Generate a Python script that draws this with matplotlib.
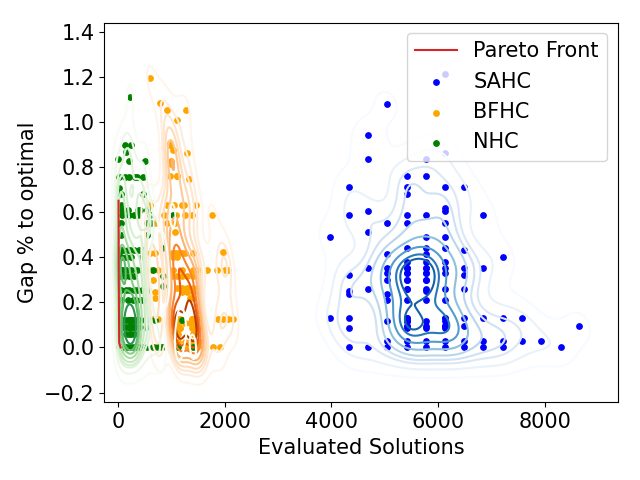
import matplotlib
matplotlib.use("Agg")
import matplotlib.pyplot as plt
import seaborn as sns

# rows of (gap, [evaluated solutions]),
# repeated x values are points lying on top of each other
sahc_rows = [
    (1.21, [6130]),
    (1.08, [5040]),
    (0.94, [4690]),
    (0.86, [6130]),
    (0.835, [4690, 5770]),
    (0.76, [5420, 5770]),
    (0.71, [4330, 5420, 6130, 6490]),
    (0.68, [5420]),
    (0.62, [6130]),
    (0.605, [4690, 6130]),
    (0.585, [4330, 5420, 5770, 6850]),
    (0.55, [5040, 5420, 6130]),
    (0.51, [4690]),
    (0.49, [3980, 5770, 6130]),
    (0.44, [5420, 5770, 6130]),
    (0.43, [6490]),
    (0.415, [5040, 5770]),
    (0.40, [7210]),
    (0.38, [5420, 5770, 6130]),
    (0.35, [4690, 5040, 5420, 5420, 5770, 5770, 6130, 6490, 6850]),
    (0.33, [5040, 5420, 5420, 5770, 5770, 6130]),
    (0.32, [4330, 6490]),
    (0.30, [5040, 5420, 5420, 5770, 5770]),
    (0.26, [4690, 5420, 5420, 5770, 6130, 6490]),
    (0.25, [4330, 5770]),
    (0.235, [4330, 5040]),
    (0.21, [5040, 5420, 5770, 6130]),
    (0.13, [3980, 4330, 5420, 5420, 6130, 6130, 6490, 6850, 7210, 7570]),
    (0.115, [5040, 5420, 5420, 5420, 5770, 6130]),
    (0.095, [5420, 5420, 5770, 6130, 6130, 6130, 6490, 8650]),
    (0.085, [4330, 5420, 5770, 6130]),
    (0.027, [5040, 5420, 5770, 6130, 6490, 6850, 7210, 7570, 7930]),
    (0.0, [4330, 4690, 5040, 5420, 5770, 6130, 6490, 6850, 7210, 8300]),
]

bfhc_rows = [
    (1.196, [600]),
    (1.084, [790]),
    (1.05, [910, 1273]),
    (1.01, [1110]),
    (0.905, [975]),
    (0.895, [975]),
    (0.874, [1025]),
    (0.862, [1286]),
    (0.825, [993]),
    (0.815, [993]),
    (0.76, [975, 1100, 1110]),
    (0.748, [1336]),
    (0.632, [600, 910, 1050, 1193, 1236, 1455]),
    (0.588, [860, 1086, 1255, 1380, 1766]),
    (0.551, [560, 700, 910, 1067]),
    (0.51, [1067]),
    (0.425, [1972]),
    (0.418, [600, 700, 1005, 1067, 1130, 1193, 1255, 1411]),
    (0.40, [1030, 1100]),
    (0.344, [600, 750, 1036, 1193, 1411, 1504, 1661, 1848, 2004, 2066]),
    (0.317, [1005, 1100, 1200, 1300, 1400]),
    (0.30, [650]),
    (0.262, [1100, 1193, 1286, 1411]),
    (0.247, [700, 1200, 1300, 1400]),
    (0.218, [700, 1348, 1411]),
    (0.124, [650, 750, 1036, 1100, 1100, 1161, 1380, 1380, 1473, 1878, 1972,
             2066, 2160]),
    (0.107, [1067, 1100, 1130, 1130, 1250, 1348, 1400, 1400]),
    (0.084, [1100, 1161, 1161, 1380, 1400, 1473]),
    (0.06, [1100, 1130, 1400, 1420]),
    (0.025, [1130, 1255, 1348, 1400, 1473, 1560]),
    (0.003, [700, 800, 1100, 1286, 1473, 1598, 1785, 1910]),
]

nhc_rows = [
    (1.11, [225]),
    (0.895, [131, 238]),
    (0.865, [150]),
    (0.835, [6]),
    (0.825, [212, 506]),
    (0.755, [25, 131, 212, 318, 362, 462]),
    (0.705, [25]),
    (0.68, [50, 462]),
    (0.63, [50]),
    (0.61, [69, 194, 381, 412, 537]),
    (0.585, [69, 212, 290, 381, 600, 1024]),
    (0.55, [25, 60, 537, 610]),
    (0.50, [50, 543]),
    (0.44, [825]),
    (0.43, [30, 50, 90, 180, 220, 300, 400, 440]),
    (0.40, [30, 50, 150, 250, 450]),
    (0.345, [30, 50, 90, 150, 250, 350, 450, 650]),
    (0.315, [30, 50, 120, 200, 300, 850]),
    (0.27, [850]),
    (0.255, [30, 50, 150, 200, 300, 350, 450, 560]),
    (0.21, [50, 180, 280, 340, 420, 480]),
    (0.12, [30, 60, 100, 150, 200, 200, 200, 250, 250, 250, 300, 300, 350, 400,
            500, 600, 700, 1193]),
    (0.09, [50, 100, 150, 200, 200, 200, 250, 250, 300, 300, 400, 520]),
    (0.06, [150, 200, 250, 300]),
    (0.0, [20, 50, 80, 120, 150, 200, 250, 300, 350, 400, 450, 550, 650, 750,
           818, 1130, 1411]),
]

pareto_x = [8, 12, 20, 45]
pareto_y = [0.65, 0.30, 0.02, 0.0]


def flatten(rows):
    xs, ys = [], []
    for gap, evals in rows:
        for e in evals:
            xs.append(e)
            ys.append(gap)
    return xs, ys


sahc_x, sahc_y = flatten(sahc_rows)
bfhc_x, bfhc_y = flatten(bfhc_rows)
nhc_x, nhc_y = flatten(nhc_rows)

plt.rcParams['font.size'] = 15

fig, ax = plt.subplots(figsize=(6.4, 4.8), dpi=100)

ax.plot(pareto_x, pareto_y, color='tab:red', label='Pareto Front', zorder=5)
ax.scatter(sahc_x, sahc_y, s=15, color='blue', label='SAHC')
ax.scatter(bfhc_x, bfhc_y, s=15, color='orange', label='BFHC')
ax.scatter(nhc_x, nhc_y, s=15, color='green', label='NHC')

sns.kdeplot(x=sahc_x, y=sahc_y, cmap='Blues', bw_adjust=0.7, ax=ax)
sns.kdeplot(x=bfhc_x, y=bfhc_y, cmap='Oranges', bw_adjust=0.7, ax=ax)
sns.kdeplot(x=nhc_x, y=nhc_y, cmap='Greens', bw_adjust=0.7, ax=ax)

ax.set_xlim(-262, 9364)
ax.set_ylim(-0.243, 1.44)
ax.set_xlabel('Evaluated Solutions')
ax.set_ylabel('Gap % to optimal')
ax.legend(loc='upper right')

plt.tight_layout()
plt.savefig('out.png')
